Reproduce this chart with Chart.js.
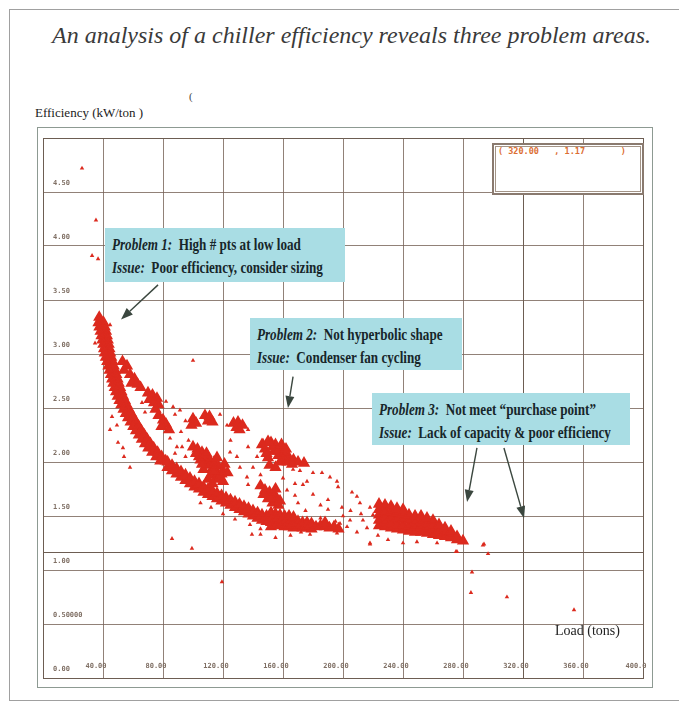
<!DOCTYPE html>
<html>
<head>
<meta charset="utf-8">
<script src="https://cdn.jsdelivr.net/npm/chart.js@4.4.1/dist/chart.umd.min.js"></script>
<style>
  body { margin: 0; background: #fff; }
  #wrap { position: relative; width: 679px; height: 704px; overflow: hidden; background: #fff; }
  #chart { position: absolute; left: 0; top: 0; }
  .outer { position: absolute; left: 9px; top: 9px; width: 700px; height: 690px;
           border-top: 1px solid #a0a0a0; border-left: 1px solid #a0a0a0; border-bottom: 1px solid #a0a0a0; }
  .inner { position: absolute; left: 37px; top: 127px; width: 614px; height: 559px; border: 1px solid #8d9a92; }
  #title { position: absolute; left: 12px; top: 22px; width: 679px; text-align: center;
           font: italic 24px "Liberation Serif", serif; color: #3a3a3a; white-space: nowrap; }
  #ylabel { position: absolute; left: 35px; top: 105px; font: 13px "Liberation Serif", serif; color: #222; }
  #xlabel { position: absolute; left: 555px; top: 623px; font: 14px "Liberation Serif", serif; color: #222; }
  #stray { position: absolute; left: 189px; top: 90px; font: 11px "Liberation Serif", serif; color: #444; }
  .note { position: absolute; background: #a9dde4; color: #17262a; font: bold 16px "Liberation Serif", serif;
          box-sizing: border-box; padding: 5px 0 0 7px; line-height: 23px; white-space: nowrap; }
  .note div { transform: scaleX(0.82); transform-origin: 0 50%; }
  .note i { font-style: italic; }
  #readout { position: absolute; box-sizing: border-box; background: #fff;
             border: 2px solid #8a7a6f; box-shadow: inset 0 0 0 1px #fff, inset 0 0 0 2px #a39487;
             font: bold 8.5px "DejaVu Sans Mono", monospace; color: #dc6e32; white-space: pre; padding: 1px 0 0 4px; }
</style>
</head>
<body>
<div id="wrap">
  <div class="outer"></div>
  <div class="inner"></div>
  <div id="title">An analysis of a chiller efficiency reveals three problem areas.</div>
  <div id="stray">(</div>
  <div id="ylabel">Efficiency (kW/ton )</div>
  <canvas id="chart" width="679" height="704"></canvas>
  <div id="xlabel">Load (tons)</div>
  <div id="readout"></div>
</div>
<script>
// tick labels
const xTickLabels = ["", "40.00", "80.00", "120.00", "160.00", "200.00", "240.00", "280.00", "320.00", "360.00", "400.0"];
const yTickLabels = ["0.00", "0.50000", "1.00", "1.50", "2.00", "2.50", "3.00", "3.50", "4.00", "4.50", ""];

// [load (tons), efficiency (kW/ton)]
const mainBand = [
  [37.5,3.34],[37.0,3.29],[40.4,3.29],[37.6,3.25],[41.2,3.25],[38.4,3.21],[42.0,3.21],
  [39.0,3.17],[42.6,3.17],[39.6,3.13],[43.2,3.13],[40.2,3.09],[43.8,3.09],[40.7,3.05],[44.3,3.05],
  [41.2,3.01],[44.8,3.01],[41.9,2.97],[45.5,2.97],[42.8,2.93],[46.4,2.93],[43.6,2.89],[47.2,2.89],
  [44.4,2.85],[48.0,2.85],[45.3,2.81],[48.9,2.81],[46.1,2.77],[49.7,2.77],[46.9,2.73],[50.5,2.73],
  [47.8,2.69],[51.4,2.69],[48.7,2.65],[52.3,2.65],[49.8,2.61],[53.4,2.61],[51.0,2.57],[54.6,2.57],
  [52.2,2.53],[55.8,2.53],[53.7,2.49],[57.3,2.49],[55.2,2.45],[58.8,2.45],[56.7,2.41],[60.3,2.41],
  [58.4,2.37],[62.0,2.37],[60.2,2.33],[63.8,2.33],[62.0,2.29],[65.6,2.29],[63.9,2.25],[67.5,2.25],
  [65.9,2.21],[69.5,2.21],[68.0,2.17],[71.6,2.17],[70.2,2.13],[73.8,2.13],[72.8,2.09],[76.4,2.09],
  [75.5,2.05],[79.1,2.05],[78.2,2.01],[81.8,2.01],
  [83,1.95],[83,2.00],[86,1.92],[86,1.97],[89,1.89],[89,1.94],[92,1.86],[92,1.91],[95,1.83],[95,1.88],
  [98,1.80],[98,1.85],[101,1.77],[101,1.82],[104,1.75],[104,1.80],[107,1.72],[107,1.77],[110,1.70],[110,1.75],
  [113,1.68],[113,1.73],[116,1.66],[116,1.71],[119,1.64],[119,1.69],[122,1.62],[122,1.67],[125,1.60],[125,1.65],
  [128,1.58],[128,1.63],[131,1.56],[131,1.61],[134,1.54],[134,1.59],[137,1.52],[137,1.57],[140,1.50],[140,1.55],
  [143,1.48],[143,1.53],[146,1.46],[146,1.51],[149,1.45],[149,1.50],[152,1.40],[152,1.44],[152,1.49],[152,1.53],
  [155,1.42],[155,1.47],[155,1.52],[158,1.41],[158,1.46],[158,1.51],[161,1.40],[161,1.45],[161,1.50],
  [164,1.40],[164,1.45],[164,1.50],[167,1.39],[167,1.44],[167,1.49],[170,1.40],[170,1.45],[173,1.39],[173,1.44],
  [176,1.39],[176,1.44],[179,1.38],[179,1.43],[182,1.40],[185,1.41],
  [188,1.40],[188,1.44],[191,1.39],[194,1.40],[197,1.38]
];

const clusters = [
  [53,2.93],[56,2.89],[54,2.85],[58,2.81],[61,2.77],[59,2.73],[63,2.72],[65,2.69],
  [70,2.64],[73,2.62],[76,2.59],[71,2.58],[74,2.55],[77,2.53],[75,2.49],
  [77,2.43],[80,2.39],[82,2.35],[79,2.33],[84,2.30],
  [100,2.40],[102,2.36],[99,2.34],[108,2.43],[111,2.42],[110,2.38],[113,2.37],
  [127,2.36],[130,2.37],[133,2.34],[129,2.32],[131,2.30],
  [100,2.14],[103,2.12],[106,2.09],[104,2.05],[108,2.04],[111,2.02],[114,2.00],[110,1.97],[113,1.94],
  [117,1.96],[116,1.90],[120,1.92],[112,1.88],[115,1.84],[118,1.86],[121,1.98],[107,1.93],[123,1.90],
  [102,2.08],[105,2.02],[109,2.08],[116,2.04],[119,1.89],[114,1.92],[110,1.84],[113,1.80],[120,1.82],[106,1.98],
  [148,2.12],[152,2.18],[155,2.16],[158,2.12],[154,2.10],[157,2.06],[161,2.08],[160,2.02],[164,2.04],
  [167,2.02],[170,2.00],[174,1.99],[150,2.04],[151,1.97],[155,1.95],
  [149,2.08],[153,2.14],[156,2.10],[159,2.16],[162,2.12],[163,2.00],[166,1.98],[158,2.00],[146,2.16],[150,2.19],
  [145,1.78],[148,1.74],[151,1.72],[154,1.70],[156,1.66],[153,1.62],[157,1.60],[150,1.66],
  [147,1.70],[152,1.67],[155,1.75],[158,1.64]
];

const wedge = [
  [224,1.41],[224,1.46],[224,1.51],[224,1.56],[224,1.61],
  [228,1.40],[228,1.45],[228,1.50],[228,1.55],[228,1.60],
  [232,1.39],[232,1.44],[232,1.49],[232,1.54],[232,1.59],
  [236,1.38],[236,1.43],[236,1.48],[236,1.53],[236,1.57],
  [240,1.37],[240,1.42],[240,1.47],[240,1.52],[240,1.56],
  [244,1.36],[244,1.41],[244,1.46],[244,1.51],
  [248,1.35],[248,1.40],[248,1.45],[248,1.50],
  [252,1.35],[252,1.40],[252,1.45],[252,1.50],
  [256,1.34],[256,1.39],[256,1.44],[256,1.48],
  [260,1.33],[260,1.38],[260,1.43],[260,1.46],
  [264,1.32],[264,1.37],[264,1.42],
  [268,1.31],[268,1.35],[268,1.39],
  [272,1.30],[272,1.33],[272,1.36],
  [276,1.28],[276,1.31],[280,1.27]
];

const scatter = [
  [26,4.72],[35.3,4.24],[32.7,3.91],[36.7,3.88],[34.7,3.10],[44.7,3.27],[100,2.94],
  [46,2.42],[49.3,2.34],[44.7,2.30],[50,2.18],[53.3,2.13],[54,2.05],[58,1.95],
  [84.7,2.22],[89.3,2.14],[92.7,2.14],[86.7,2.51],[91.3,2.48],[118,2.44],[122.7,2.34],[136.7,2.30],
  [146.7,2.20],[136.7,2.14],[142.7,2.05],[129.3,2.05],[131.3,1.95],[124.7,2.09],[136,1.86],[116,1.83],
  [116.7,1.72],[122.7,1.68],[129.3,1.62],[136.7,1.79],[86,1.29],[99.3,1.20],[119.3,0.89],[139.3,1.33],
  [294,1.24],[275.3,1.17],[296.7,1.15],[286,0.98],[285.3,0.79],[309.3,0.75],[354,0.63],[218,1.24],
  [166.7,1.93],[171.3,1.92],[180,1.90],[186,1.90],[191.3,1.86],[196,1.82],[196.7,1.77],[206,1.72],
  [209.3,1.68],[211.3,1.62],[190,1.65],[176,1.82],[173.3,1.79],[168,1.69],[162.7,1.74],[190,1.56],
  [199.3,1.58],[218,1.58],[220,1.51],[202.7,1.40],[209.3,1.35],[218,1.25],[230,1.28],[240,1.25],
  [249.3,1.26],[262.7,1.25],[276,1.17],[293.3,1.23],[193.3,1.39],[198,1.43],[204.7,1.46],[213.3,1.46],
  [216,1.39],[223.3,1.32],[196,1.34],[186.7,1.39],[182.7,1.42],[145,1.33],[155,1.30],[165,1.32],
  [172,1.35],[178,1.33],[68,2.46],[66,2.55],[82,2.56],[88,2.44],[95,2.38],[92,2.28],[97,2.20],
  [88,2.08],[95,2.05],[125,2.20],[140,1.95],[145,1.88],[160,1.85],[168,1.80],[180,1.70],[185,1.60],
  [175,1.55],[170,1.62],[200,1.50],[205,1.55],[212,1.52],[185,1.48],[195,1.45],
  [105,1.62],[112,1.58],[120,1.52],[128,1.47],[138,1.42],[145,1.38]
];

// cursor readout
const cursorLoad = 320;
const cursorEff = 1.17;

// annotations
const noteHeads = ["Problem 1:", "Problem 2:", "Problem 3:"];
const noteTexts = ["High # pts at low load", "Not hyperbolic shape", "Not meet \u201cpurchase point\u201d"];
const issueTexts = ["Poor efficiency, consider sizing", "Condenser fan cycling", "Lack of capacity & poor efficiency"];
const noteBoxes = [
  { load: 41.3, eff: 4.17, w: 240, h: 54 },
  { load: 138, eff: 3.33, w: 212, h: 52 },
  { load: 219.3, eff: 2.64, w: 258, h: 52 }
];
const arrows = [
  { from: [76.7, 3.64], to: [52, 3.32] },
  { from: [166.7, 2.79], to: [163.3, 2.50] },
  { from: [289.3, 2.13], to: [282.7, 1.63] },
  { from: [307.3, 2.13], to: [320.7, 1.48] }
];

const wrap = document.getElementById("wrap");
const noteDivs = noteBoxes.map((b, i) => {
  const d = document.createElement("div");
  d.className = "note";
  d.innerHTML = "<div><i>" + noteHeads[i] + "</i>&nbsp; " + noteTexts[i] + "</div>" +
                "<div><i>Issue:</i>&nbsp; " + issueTexts[i].replace("&", "&amp;") + "</div>";
  wrap.appendChild(d);
  return d;
});
const readout = document.getElementById("readout");
readout.textContent = "( " + cursorLoad.toFixed(2) + "   , " + cursorEff.toFixed(2) + "       )";

const toXY = (p) => ({ x: p[0], y: p[1] });

const gridCol = "rgba(118,98,86,0.8)";
const edgeCol = "#6d5d52";

const overlay = {
  id: "overlay",
  beforeDatasetsDraw(chart) {
    const { ctx, chartArea: a, scales: { x, y } } = chart;
    ctx.save();
    ctx.strokeStyle = edgeCol;
    ctx.lineWidth = 1;
    const cy = Math.round(y.getPixelForValue(cursorEff)) + 0.5;
    ctx.beginPath(); ctx.moveTo(a.left, cy); ctx.lineTo(a.right, cy); ctx.stroke();
    const cx = Math.round(x.getPixelForValue(cursorLoad)) + 0.5;
    ctx.beginPath(); ctx.moveTo(cx, a.top); ctx.lineTo(cx, a.bottom); ctx.stroke();
    ctx.restore();
  },
  afterDatasetsDraw(chart) {
    const { ctx, scales: { x, y } } = chart;
    ctx.save();
    ctx.strokeStyle = "#3b473f";
    ctx.fillStyle = "#3b473f";
    ctx.lineWidth = 1.4;
    arrows.forEach((ar) => {
      const x1 = x.getPixelForValue(ar.from[0]), y1 = y.getPixelForValue(ar.from[1]);
      const x2 = x.getPixelForValue(ar.to[0]), y2 = y.getPixelForValue(ar.to[1]);
      const ang = Math.atan2(y2 - y1, x2 - x1);
      const len = 12, half = 4.5;
      const bx = x2 - Math.cos(ang) * len, by = y2 - Math.sin(ang) * len;
      ctx.beginPath(); ctx.moveTo(x1, y1); ctx.lineTo(bx, by); ctx.stroke();
      ctx.beginPath();
      ctx.moveTo(x2, y2);
      ctx.lineTo(bx + Math.sin(ang) * half, by - Math.cos(ang) * half);
      ctx.lineTo(bx - Math.sin(ang) * half, by + Math.cos(ang) * half);
      ctx.closePath(); ctx.fill();
    });
    ctx.restore();
  },
  afterDraw(chart) {
    const { chartArea: a, scales: { x, y } } = chart;
    noteBoxes.forEach((b, i) => {
      const d = noteDivs[i];
      d.style.left = Math.round(x.getPixelForValue(b.load)) + "px";
      d.style.top = Math.round(y.getPixelForValue(b.eff)) + "px";
      d.style.width = b.w + "px";
      d.style.height = b.h + "px";
    });
    readout.style.left = Math.round(a.right - 151) + "px";
    readout.style.top = Math.round(a.top + 5) + "px";
    readout.style.width = "152px";
    readout.style.height = "52px";
  }
};

const ctx = document.getElementById("chart").getContext("2d");
const chart = new Chart(ctx, {
  type: "scatter",
  data: {
    datasets: [
      {
        label: "dense",
        data: mainBand.concat(clusters, wedge).map(toXY),
        pointStyle: "triangle",
        pointRadius: 5.5,
        pointBorderWidth: 1.6,
        backgroundColor: "#dc2a1e",
        borderColor: "#dc2a1e"
      },
      {
        label: "scatter",
        data: scatter.map(toXY),
        pointStyle: "triangle",
        pointRadius: 2.6,
        pointBorderWidth: 0,
        backgroundColor: "#dc2a1e",
        borderColor: "#dc2a1e"
      }
    ]
  },
  options: {
    responsive: false,
    animation: false,
    events: [],
    layout: { padding: { left: 43, top: 138, right: 36, bottom: 26 } },
    plugins: { legend: { display: false }, tooltip: { enabled: false } },
    scales: {
      x: {
        type: "linear",
        min: 0,
        max: 400,
        afterFit: (s) => { s.height = 0; },
        ticks: {
          stepSize: 40,
          autoSkip: false,
          maxRotation: 0,
          mirror: true,
          padding: 8,
          labelOffset: -7,
          color: "#7f6f64",
          font: { family: "DejaVu Sans Mono", size: 7, weight: "bold" },
          callback: (v, i) => xTickLabels[i]
        },
        grid: {
          drawTicks: false,
          color: (c) => (c.tick && (c.tick.value === 0 || c.tick.value === 400) ? edgeCol : gridCol),
          lineWidth: 1
        },
        border: { display: true, color: edgeCol }
      },
      y: {
        type: "linear",
        min: 0,
        max: 5,
        afterFit: (s) => { s.width = 0; },
        ticks: {
          stepSize: 0.5,
          autoSkip: false,
          mirror: true,
          padding: 10,
          labelOffset: -9,
          color: "#7f6f64",
          font: { family: "DejaVu Sans Mono", size: 7, weight: "bold" },
          callback: (v, i) => yTickLabels[i]
        },
        grid: {
          drawTicks: false,
          color: (c) => (c.tick && (c.tick.value === 0 || c.tick.value === 5) ? edgeCol : gridCol),
          lineWidth: 1
        },
        border: { display: true, color: edgeCol }
      }
    }
  },
  plugins: [overlay]
});
</script>
</body>
</html>
